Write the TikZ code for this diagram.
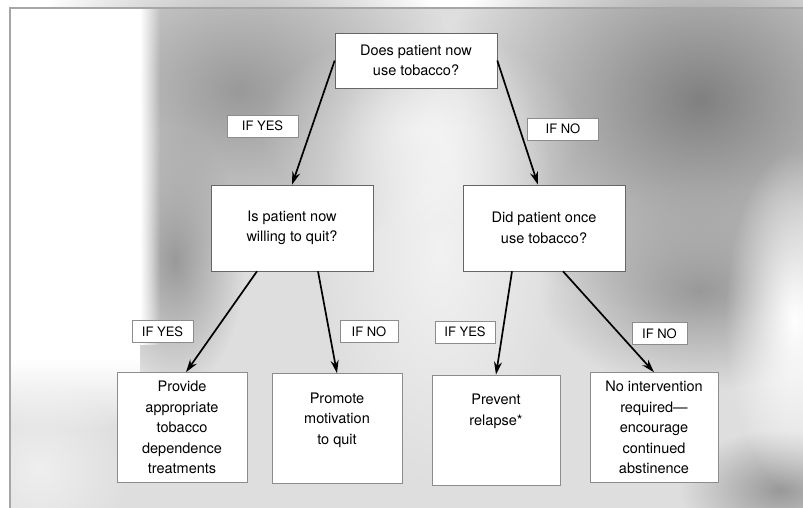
\documentclass[tikz,border=0pt]{standalone}
\usepackage{fontspec}
\setmainfont{TeX Gyre Heros}
\usetikzlibrary{arrows.meta,fadings}
\tikzfading[name=softblob, inner color=transparent!0, outer color=transparent!100]
\begin{document}
\begin{tikzpicture}[x=1pt,y=-1pt,
  txt/.style={font=\fontsize{14.5}{20.5}\selectfont, align=center},
  qbox/.style={txt, draw=black!60, line width=0.6pt, fill=white, minimum width=162pt, inner sep=0pt},
  abox/.style={txt, draw=black!45, line width=0.5pt, fill=white, minimum width=129pt, minimum height=110pt, inner sep=0pt},
  lbl/.style={font=\fontsize{13}{15}\selectfont, draw=black!45, line width=0.5pt, fill=white, minimum height=22pt, inner sep=0pt},
  arr/.style={draw=black, line width=1.7pt, -{Stealth[length=13pt,width=8pt]}},
  dark/.style={fill=black!40, path fading=softblob},
  light/.style={fill=white, path fading=softblob}]
\useasboundingbox (0,0) rectangle (803,508);
% ---------- background texture ----------
\fill[gray!26] (10,8) rectangle (803,508);
\fill[dark] (240,90) ellipse (220 and 180);
\fill[dark, fill=black!50] (700,100) ellipse (260 and 220);
\fill[dark] (700,290) ellipse (160 and 100);
\fill[dark] (780,490) ellipse (100 and 60);
\fill[dark] (175,260) ellipse (70 and 130);
\fill[light, opacity=0.6] (440,250) ellipse (120 and 240);
\fill[light, opacity=0.6] (420,130) ellipse (160 and 100);
\fill[light] (795,320) ellipse (70 and 170);
\fill[light, opacity=0.5] (40,470) ellipse (90 and 90);
\fill[white] (10,8) rectangle (140,360);
\fill[white, path fading=east] (140,8) rectangle (160,345);
\fill[white, path fading=south] (10,360) rectangle (140,430);
\draw[gray!70, line width=1.6pt] (803,8) -- (10,8) -- (10,508);
% ---------- nodes ----------
\node[qbox, minimum height=55pt] (top) at (416,60.5) {Does patient now\\use tobacco?};
\node[qbox, minimum height=86pt] (ml) at (292,228) {Is patient now\\willing to quit?};
\node[qbox, minimum height=86pt] (mr) at (544,228) {Did patient once\\use tobacco?};
\node[abox, minimum width=130pt] (b1) at (182,427.5) {Provide\\appropriate\\tobacco\\dependence\\treatments};
\node[abox, minimum width=130pt] (b2) at (337,428.5) {Promote\\motivation\\to quit\\\mbox{}};
\node[abox, minimum width=128pt] (b3) at (496,430) {Prevent\\relapse*\\\mbox{}\\\mbox{}};
\node[abox, minimum width=128pt] (b4) at (654,427.5) {No intervention\\required---\\encourage\\continued\\abstinence};
\node[lbl, minimum width=71pt] (l1) at (262.5,126) {IF YES};
\node[lbl, minimum width=71pt] (l2) at (563,129) {IF NO};
\node[lbl, minimum width=61pt] (l3) at (162.5,331.5) {IF YES};
\node[lbl, minimum width=58pt] (l4) at (369,331.5) {IF NO};
\node[lbl, minimum width=60pt] (l5) at (465,332) {IF YES};
\node[lbl, minimum width=55pt] (l6) at (659.5,333.5) {IF NO};
% ---------- connectors ----------
\draw[arr] (top.west) -- (ml.north);
\draw[arr] (top.east) -- ([xshift=-6pt]mr.north);
\draw[arr] ([xshift=-35pt]ml.south) -- ([xshift=4pt]b1.north);
\draw[arr] ([xshift=26pt]ml.south) -- (b2.north);
\draw[arr] ([xshift=-32pt]mr.south) -- (b3.north);
\draw[arr] ([xshift=19pt]mr.south) -- (b4.north);
\end{tikzpicture}
\end{document}
